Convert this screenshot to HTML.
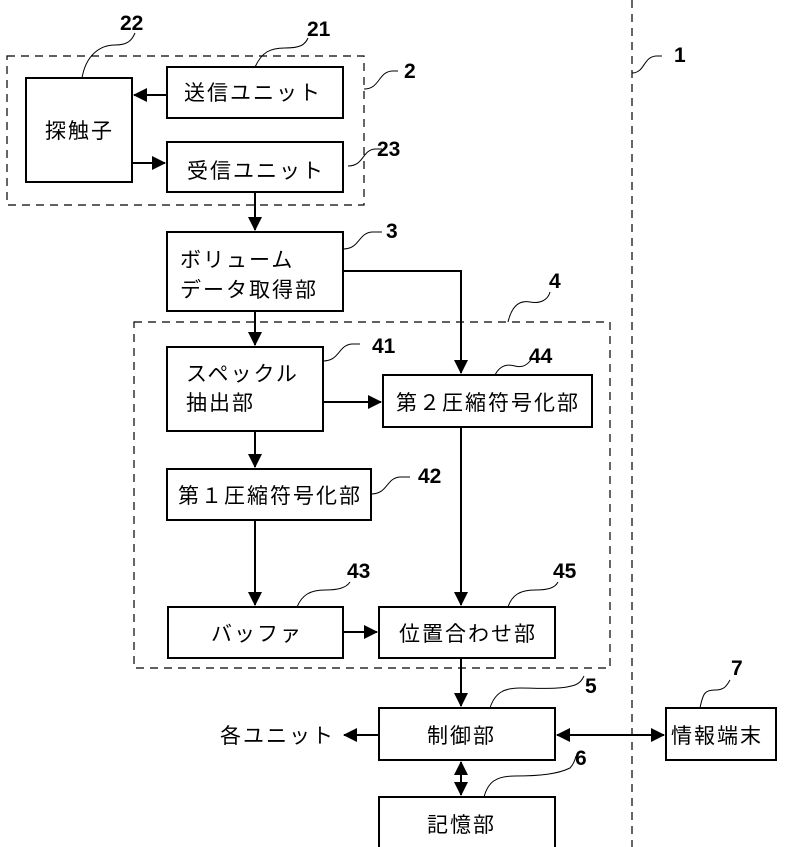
<!DOCTYPE html>
<html><head><meta charset="utf-8"><style>
html,body{margin:0;padding:0;background:#fff;}
svg{display:block;}
text{font-family:"Liberation Sans","Noto Sans CJK JP",sans-serif;fill:#000;}
.t{font-size:21px;letter-spacing:2px;}
.n{font-size:21px;font-family:"Liberation Sans Narrow","Liberation Sans",sans-serif;font-weight:bold;}
</style></head><body>
<svg width="800" height="847" viewBox="0 0 800 847" xmlns="http://www.w3.org/2000/svg">
<defs>
<marker id="a" markerWidth="14" markerHeight="14" refX="13" refY="7" orient="auto" markerUnits="userSpaceOnUse">
<path d="M0,0 L14,7 L0,14 z" fill="#000"/></marker>
<marker id="s" markerWidth="14" markerHeight="14" refX="1" refY="7" orient="auto" markerUnits="userSpaceOnUse">
<path d="M14,0 L0,7 L14,14 z" fill="#000"/></marker>
</defs>
<g fill="none" stroke="#000" stroke-width="1.2" stroke-dasharray="8,6">
<rect x="7" y="56" width="357" height="149"/>
<rect x="134" y="322" width="476" height="346"/>
<line x1="632" y1="0" x2="632" y2="847"/>
</g>
<g fill="#fff" stroke="#000" stroke-width="2">
<rect x="26" y="78" width="106" height="104"/>
<rect x="167" y="67" width="176" height="51"/>
<rect x="167" y="142" width="176" height="50"/>
<rect x="167" y="232" width="176" height="79"/>
<rect x="167" y="347" width="156" height="84"/>
<rect x="383" y="375" width="209" height="52"/>
<rect x="167" y="469" width="204" height="51"/>
<rect x="168" y="607" width="175" height="51"/>
<rect x="379" y="607" width="176" height="51"/>
<rect x="379" y="708" width="176" height="52"/>
<rect x="379" y="797" width="176" height="60"/>
<rect x="666" y="708" width="110" height="52"/>
</g>
<g stroke="#000" stroke-width="2" fill="none">
<line x1="167" y1="95" x2="134" y2="95" marker-end="url(#a)"/>
<line x1="132" y1="163" x2="165" y2="163" marker-end="url(#a)"/>
<line x1="255" y1="192" x2="255" y2="230" marker-end="url(#a)"/>
<polyline points="343,271 461,271 461,373" marker-end="url(#a)"/>
<line x1="255" y1="311" x2="255" y2="345" marker-end="url(#a)"/>
<line x1="323" y1="402" x2="381" y2="402" marker-end="url(#a)"/>
<line x1="255" y1="431" x2="255" y2="467" marker-end="url(#a)"/>
<line x1="255" y1="520" x2="255" y2="605" marker-end="url(#a)"/>
<line x1="461" y1="427" x2="461" y2="605" marker-end="url(#a)"/>
<line x1="343" y1="632" x2="377" y2="632" marker-end="url(#a)"/>
<line x1="461" y1="658" x2="461" y2="706" marker-end="url(#a)"/>
<line x1="379" y1="735" x2="344" y2="735" marker-end="url(#a)"/>
<line x1="557" y1="735" x2="664" y2="735" marker-start="url(#s)" marker-end="url(#a)"/>
<line x1="461" y1="762" x2="461" y2="795" marker-start="url(#s)" marker-end="url(#a)"/>
</g>
<g stroke="#000" stroke-width="1" fill="none">
<path d="M82,78 C86,55 100,45 115,45 C128,45 132,40 135,33"/>
<path d="M255,67 C262,52 270,48 285,48 C300,48 305,45 308,38"/>
<path d="M364,89 C380,89 378,72 392,71 L398,71"/>
<path d="M348,166 C364,166 362,150 375,149 L382,149"/>
<path d="M343,249 C360,249 358,233 372,232 L382,232"/>
<path d="M632,73 C645,73 643,57 656,56 L662,56"/>
<path d="M508,322 C512,305 520,300 530,302 C540,304 548,300 550,292"/>
<path d="M323,361 C340,361 338,345 352,344 L360,344"/>
<path d="M495,375 C500,365 508,364 515,366 C522,368 528,365 532,358"/>
<path d="M371,494 C388,494 386,478 400,477 L410,477"/>
<path d="M297,607 C302,595 310,590 325,590 C338,590 346,588 350,582"/>
<path d="M508,607 C512,595 520,590 535,590 C548,590 555,588 558,582"/>
<path d="M490,708 C495,692 505,688 520,688 C540,688 560,690 575,685 C580,683 582,680 584,676"/>
<path d="M484,797 C488,782 496,776 515,776 C540,776 558,774 570,768 C573,765 575,760 576,756"/>
<path d="M700,708 C703,693 705,690 715,690 C725,690 727,685 730,680"/>
</g>
<g class="n">
<text x="120" y="30">22</text>
<text x="307" y="36">21</text>
<text x="404" y="78">2</text>
<text x="377" y="156">23</text>
<text x="386" y="238">3</text>
<text x="674" y="62">1</text>
<text x="549" y="288">4</text>
<text x="372" y="353">41</text>
<text x="529" y="363">44</text>
<text x="418" y="483">42</text>
<text x="347" y="578">43</text>
<text x="553" y="578">45</text>
<text x="585" y="693">5</text>
<text x="575" y="765">6</text>
<text x="731" y="675">7</text>
</g>
<g class="t">
<text x="45" y="138">探触子</text>
<text x="184" y="100">送信ユニット</text>
<text x="187" y="178">受信ユニット</text>
<text x="180" y="267">ボリューム</text>
<text x="180" y="297">データ取得部</text>
<text x="186" y="381">スペックル</text>
<text x="186" y="410">抽出部</text>
<text x="396" y="410">第２圧縮符号化部</text>
<text x="178" y="503">第１圧縮符号化部</text>
<text x="211" y="641">バッファ</text>
<text x="399" y="641">位置合わせ部</text>
<text x="427" y="743">制御部</text>
<text x="220" y="743">各ユニット</text>
<text x="427" y="832">記憶部</text>
<text x="671" y="743">情報端末</text>
</g>
</svg>
</body></html>
